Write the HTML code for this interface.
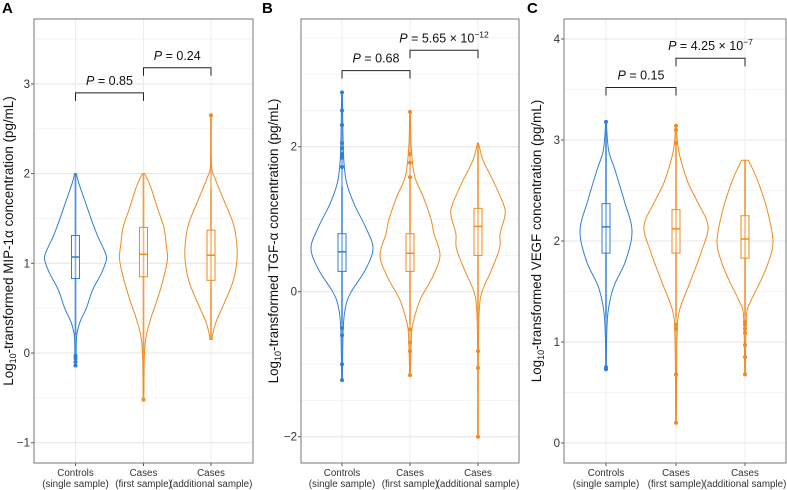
<!DOCTYPE html>
<html><head><meta charset="utf-8">
<style>
body{margin:0;background:#fff;}
svg{display:block;font-family:"Liberation Sans",Arial,sans-serif;}
</style></head>
<body>
<svg id="fig" width="787" height="490" viewBox="0 0 787 490"></svg>
<script>
// ---- data ----
const categories = ["Controls|(single sample)","Cases|(first sample)","Cases|(additional sample)"];
const panelLetters = ["A","B","C"];
const yTitles = ["MIP-1\u03b1","TGF-\u03b1","VEGF"];
const yTicksA = [-1,0,1,2,3];
const yTicksB = [-2,0,2];
const yTicksC = [0,1,2,3,4];
// violin density profiles [value, relative half-width]
const violinA0 = [[2.0,0.03],[1.9,0.1],[1.7,0.3],[1.45,0.55],[1.3,0.72],[1.15,0.92],[1.05,1],[0.9,0.85],[0.7,0.55],[0.5,0.35],[0.35,0.15],[0.2,0.04],[0,0.02],[-0.15,0.01]];
const violinA1 = [[2.0,0.05],[1.85,0.3],[1.6,0.6],[1.4,0.85],[1.2,0.95],[1.05,1],[0.85,0.85],[0.6,0.58],[0.4,0.32],[0.2,0.12],[0,0.04],[-0.3,0.02],[-0.52,0.01]];
const violinA2 = [[2.65,0.01],[2.1,0.02],[1.95,0.15],[1.7,0.5],[1.45,0.85],[1.25,0.98],[1.05,1],[0.8,0.85],[0.55,0.5],[0.35,0.2],[0.2,0.06],[0.15,0.05]];
const violinB0 = [[2.75,0.01],[2.2,0.03],[1.8,0.06],[1.5,0.15],[1.2,0.4],[0.9,0.75],[0.6,1],[0.3,0.75],[0.0,0.3],[-0.2,0.12],[-0.5,0.04],[-1.22,0.01]];
const violinB1 = [[2.48,0.01],[2.0,0.04],[1.6,0.15],[1.3,0.45],[1.0,0.7],[0.8,0.8],[0.5,1],[0.2,0.75],[-0.1,0.35],[-0.4,0.12],[-0.6,0.05],[-1.15,0.01]];
const violinB2 = [[2.05,0.02],[1.8,0.2],[1.5,0.6],[1.2,0.95],[1.05,1],[0.8,0.82],[0.6,0.8],[0.3,0.5],[0,0.15],[-0.3,0.04],[-1,0.01],[-2,0.01]];
const violinC0 = [[3.18,0.01],[2.9,0.1],[2.7,0.35],[2.4,0.7],[2.1,1],[1.8,0.75],[1.55,0.3],[1.3,0.08],[1.0,0.02],[0.72,0.01]];
const violinC1 = [[3.15,0.01],[2.9,0.08],[2.6,0.35],[2.4,0.65],[2.15,1],[1.9,0.8],[1.6,0.45],[1.3,0.1],[1.0,0.03],[0.2,0.01]];
const violinC2 = [[2.8,0.12],[2.6,0.45],[2.3,0.8],[2.0,1],[1.8,0.85],[1.6,0.55],[1.4,0.2],[1.25,0.05],[0.68,0.01]];
// box stats [whiskerLow, q1, median, q3, whiskerHigh]
const boxA = [[0.2,0.83,1.07,1.31,2.0],[-0.45,0.85,1.1,1.4,2.0],[0.15,0.81,1.09,1.37,1.83]];
const boxB = [[-0.45,0.28,0.55,0.8,1.45],[-0.45,0.28,0.53,0.8,1.55],[-0.4,0.5,0.9,1.15,2.05]];
const boxC = [[1.25,1.88,2.14,2.37,3.1],[1.25,1.88,2.12,2.31,2.95],[1.25,1.83,2.02,2.25,2.8]];
const outliersA = [[-0.03,-0.06,-0.1,-0.14],[-0.52],[2.65]];
const outliersB = [[2.75,2.5,2.3,2.05,1.98,1.9,1.85,1.72,-0.5,-0.6,-1.0,-1.22],[2.48,1.9,1.78,1.58,-0.52,-0.7,-0.82,-1.15],[-0.82,-1.05,-2.0]];
const outliersC = [[3.18,0.75,0.73],[3.14,3.1,2.97,1.17,1.13,0.68,0.2],[1.2,1.17,1.13,1.09,0.97,0.85,0.68]];
// brackets [fromGroup, toGroup, yValue, label, superscript]
const bracketsA = [[0,1,2.9,"0.85",""],[1,2,3.18,"0.24",""]];
const bracketsB = [[0,1,3.05,"0.68",""],[1,2,3.33,"5.65 \u00d7 10","\u221212"]];
const bracketsC = [[0,1,3.52,"0.15",""],[1,2,3.81,"4.25 \u00d7 10","\u22127"]];

// ---- layout ----
const panels = [
 {L:34,R:253,T:19,B:463,xs:[75.5,143.5,211],y0:353,ppu:89.7,ticks:yTicksA,min:-1.3,max:3.7,
  v:[violinA0,violinA1,violinA2],hw:[31,24,26],box:boxA,out:outliersA,br:bracketsA,lx:2,titleX:13},
 {L:301,R:519,T:19,B:463,xs:[342,410,478],y0:291.7,ppu:72.5,ticks:yTicksB,min:-2.4,max:3.7,
  v:[violinB0,violinB1,violinB2],hw:[31,30,27],box:boxB,out:outliersB,br:bracketsB,lx:262,titleX:278},
 {L:564,R:786,T:19,B:463,xs:[606,676,745],y0:443,ppu:101,ticks:yTicksC,min:-0.2,max:4.2,
  v:[violinC0,violinC1,violinC2],hw:[26,32,28],box:boxC,out:outliersC,br:bracketsC,lx:527,titleX:541}
];
const colors = ["#2f7ed8","#f28a1e","#f28a1e"];
const NS="http://www.w3.org/2000/svg";
const svg=document.getElementById("fig");
function mk(tag,attrs,parent){const e=document.createElementNS(NS,tag);for(const k in attrs)e.setAttribute(k,attrs[k]);(parent||svg).appendChild(e);return e;}
function smooth(pts){let d="M"+pts[0][0]+","+pts[0][1];for(let i=0;i<pts.length-1;i++){const p0=pts[Math.max(0,i-1)],p1=pts[i],p2=pts[i+1],p3=pts[Math.min(pts.length-1,i+2)];
 const c1=[p1[0]+(p2[0]-p0[0])/6,p1[1]+(p2[1]-p0[1])/6],c2=[p2[0]-(p3[0]-p1[0])/6,p2[1]-(p3[1]-p1[1])/6];
 d+=" C"+c1[0]+","+c1[1]+" "+c2[0]+","+c2[1]+" "+p2[0]+","+p2[1];}return d;}

panels.forEach((p,pi)=>{
 const g=mk("g",{});
 
 
 const Y=v=>p.y0-v*p.ppu;
 const lo=Math.ceil(p.min*2)/2;
 for(let v=lo;v<=p.max;v+=0.5){const gl=mk("line",{x1:p.L,x2:p.R,y1:Y(v),y2:Y(v),stroke:"#f2f2f2","stroke-width":0.8},g);
  }
 p.ticks.forEach(t=>{const gl=mk("line",{x1:p.L,x2:p.R,y1:Y(t),y2:Y(t),stroke:"#e6e6e6","stroke-width":1},g);
  
  const tl=mk("text",{x:p.L-4,y:Y(t)+4,"text-anchor":"end","font-size":11.5,fill:"#333"},g);tl.textContent=t<0?"\u2212"+(-t):t;
  
  mk("line",{x1:p.L-3,x2:p.L,y1:Y(t),y2:Y(t),stroke:"#555"},g);});
 p.xs.forEach(x=>{const gl=mk("line",{x1:x,x2:x,y1:p.T,y2:p.B,stroke:"#ececec","stroke-width":1},g);
  });
 p.v.forEach((prof,gi)=>{
  const x=p.xs[gi],c=colors[gi],w=p.hw[gi];
  const right=prof.map(d=>[x+d[1]*w,Y(d[0])]);
  const left=prof.slice().reverse().map(d=>[x-d[1]*w,Y(d[0])]);
  const vp=mk("path",{d:smooth(right)+" L"+left[0][0]+","+left[0][1]+smooth(left).replace(/^M[^ ]+/,"")+" Z",fill:"none",stroke:c,"stroke-width":1},g);
  
  const b=p.box[gi];
  const wl=mk("line",{x1:x,x2:x,y1:Y(b[0]),y2:Y(b[4]),stroke:c,"stroke-width":1.6,"stroke-opacity":0.6},g);
  
  const bx=mk("rect",{x:x-4,y:Y(b[3]),width:8,height:Y(b[1])-Y(b[3]),fill:"#fff",stroke:c,"stroke-width":1},g);
  
  const md=mk("line",{x1:x-4,x2:x+4,y1:Y(b[2]),y2:Y(b[2]),stroke:c,"stroke-width":1.5},g);
  
  const outs=p.out[gi];
  if(outs.length){const mx=Math.max(...outs,b[4]),mn=Math.min(...outs,b[0]);
   mk("line",{x1:x,x2:x,y1:Y(mx),y2:Y(mn),stroke:c,"stroke-width":1.6,"stroke-opacity":0.6},g);}
  outs.forEach(o=>{const pt=mk("circle",{cx:x,cy:Y(o),r:2,fill:c},g);
   });
  const lines=categories[gi].split("|");
  lines.forEach((s,li)=>{const t=mk("text",{x:x,y:p.B+13+li*11,"text-anchor":"middle","font-size":9.8,fill:"#333"},g);t.textContent=s;
   });
  mk("line",{x1:x,x2:x,y1:p.B,y2:p.B+3,stroke:"#555"},g);
 });
 p.br.forEach(br=>{const x1=p.xs[br[0]],x2=p.xs[br[1]],y=Y(br[2]);
  const bp=mk("path",{d:`M${x1},${y+8} V${y} H${x2} V${y+8}`,fill:"none",stroke:"#222","stroke-width":1},g);
  
  const t=mk("text",{x:(x1+x2)/2,y:y-8,"text-anchor":"middle","font-size":12.5,fill:"#111"},g);
  
  const i=mk("tspan",{"font-style":"italic"},t);i.textContent="P";
  const r=mk("tspan",{},t);r.textContent=" = "+br[3];
  if(br[4]){const s=mk("tspan",{dy:-5,"font-size":8.5},t);s.textContent=br[4];}
 });
 const bd=mk("rect",{x:p.L,y:p.T,width:p.R-p.L,height:p.B-p.T,fill:"none",stroke:"#777","stroke-width":1},g);
 
 const lt=mk("text",{x:p.lx,y:13,"font-size":15,"font-weight":"bold",fill:"#000"},g);lt.textContent=panelLetters[pi];
 
 const cy=(p.T+p.B)/2;
 const yt=mk("text",{x:p.titleX,y:cy,transform:`rotate(-90 ${p.titleX} ${cy})`,"text-anchor":"middle","font-size":13.4,fill:"#111"},g);
 
 const a=mk("tspan",{},yt);a.textContent="Log";
 const s=mk("tspan",{dy:3,"font-size":9},yt);s.textContent="10";
 const rest=mk("tspan",{dy:-3},yt);rest.textContent="-transformed "+yTitles[pi]+" concentration (pg/mL)";
});
</script>
</body></html>
